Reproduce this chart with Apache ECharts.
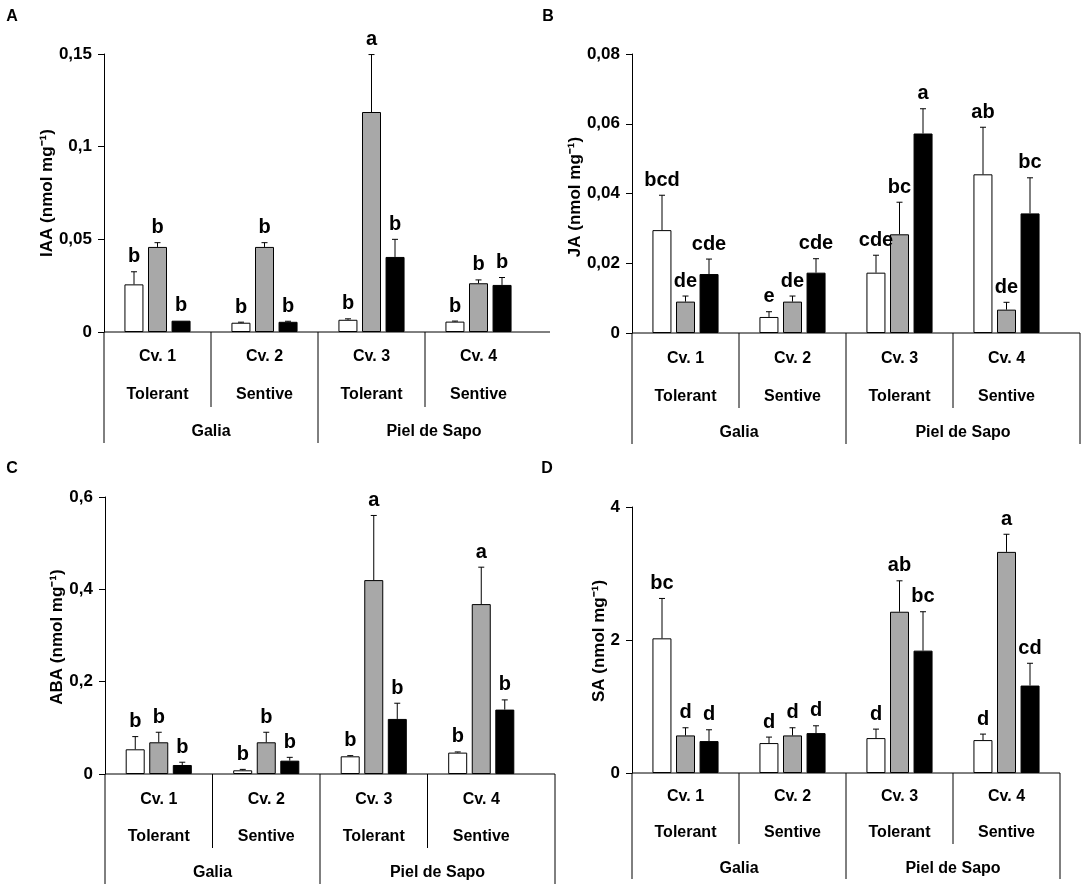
<!DOCTYPE html>
<html>
<head>
<meta charset="utf-8">
<script src="https://cdn.jsdelivr.net/npm/echarts@6/dist/echarts.min.js"></script>
<style>
  html, body { margin: 0; padding: 0; background: #fff; }
  #main { width: 1084px; height: 888px; }
</style>
</head>
<body>
<div id="main"></div>
<script>
// categories
var cultivars = ['Cv. 1', 'Cv. 2', 'Cv. 3', 'Cv. 4'];
var tolerance = ['Tolerant', 'Sentive', 'Tolerant', 'Sentive'];
var melonTypes = ['Galia', 'Piel de Sapo'];
var treatments = ['Control', 'Treatment 1', 'Treatment 2']; // white, gray, black

// IAA  (rows = treatment, cols = cultivar)
var iaaMean = [[0.0257, 0.0050, 0.0066, 0.0056], [0.0459, 0.0459, 0.1187, 0.0263], [0.0061, 0.0055, 0.0405, 0.0254]];
var iaaErr = [[0.0068, 0.0003, 0.0005, 0.0003], [0.0023, 0.0023, 0.0310, 0.0018], [0, 0.0003, 0.0095, 0.0040]];
var iaaLetters = [['b', 'b', 'b', 'b'], ['b', 'b', 'a', 'b'], ['b', 'b', 'b', 'b']];
var iaaTicks = ['0', '0,05', '0,1', '0,15'];

// JA
var jaMean = [[0.0295, 0.0046, 0.0173, 0.0455], [0.0090, 0.0090, 0.0283, 0.0067], [0.0169, 0.0173, 0.0572, 0.0343]];
var jaErr = [[0.0100, 0.0015, 0.0050, 0.0135], [0.0016, 0.0016, 0.0092, 0.0021], [0.0043, 0.0040, 0.0071, 0.0102]];
var jaLetters = [['bcd', 'e', 'cde', 'ab'], ['de', 'de', 'bc', 'de'], ['cde', 'cde', 'a', 'bc']];
var jaTicks = ['0', '0,02', '0,04', '0,06', '0,08'];

// ABA
var abaMean = [[0.0535, 0.0080, 0.0383, 0.0463], [0.0687, 0.0687, 0.4200, 0.3680], [0.0195, 0.0289, 0.1193, 0.1395]];
var abaErr = [[0.0275, 0.0020, 0.0015, 0.0015], [0.0217, 0.0217, 0.1400, 0.0800], [0.0060, 0.0072, 0.0340, 0.0210]];
var abaLetters = [['b', 'b', 'b', 'b'], ['b', 'b', 'a', 'a'], ['b', 'b', 'b', 'b']];
var abaTicks = ['0', '0,2', '0,4', '0,6'];

// SA
var saMean = [[2.025, 0.450, 0.525, 0.495], [0.565, 0.565, 2.425, 3.325], [0.480, 0.600, 1.840, 1.315]];
var saErr = [[0.600, 0.090, 0.135, 0.090], [0.115, 0.115, 0.465, 0.265], [0.170, 0.110, 0.585, 0.335]];
var saLetters = [['bc', 'd', 'd', 'd'], ['d', 'd', 'ab', 'a'], ['d', 'd', 'bc', 'cd']];
var saTicks = ['0', '2', '4'];

var FONT = '"Liberation Sans", Arial, sans-serif';
var barColors = ['#ffffff', '#a8a8a8', '#000000'];
var barOffsets = [-23.5, 0, 23.5];

var panels = [
  { tag: 'A', title: 'IAA (nmol mg\u207B\u00B9)', mean: iaaMean, err: iaaErr, letters: iaaLetters, ticks: iaaTicks,
    max: 0.15, interval: 0.05, left: 104, top: 54, width: 428, bottom: 332, ext: 18, rightLine: false,
    rows: [25, 63, 100], shortLen: 75, longLen: 111, tagPos: [12, 17], titlePos: [47, 193] },
  { tag: 'B', title: 'JA (nmol mg\u207B\u00B9)', mean: jaMean, err: jaErr, letters: jaLetters, ticks: jaTicks,
    max: 0.08, interval: 0.02, left: 632, top: 54, width: 428, bottom: 333, ext: 20, rightLine: true,
    rows: [26, 64, 100], shortLen: 75, longLen: 111, tagPos: [548, 17], titlePos: [575, 197] },
  { tag: 'C', title: 'ABA (nmol mg\u207B\u00B9)', mean: abaMean, err: abaErr, letters: abaLetters, ticks: abaTicks,
    max: 0.6, interval: 0.2, left: 105, top: 497, width: 430, bottom: 774, ext: 20, rightLine: true,
    rows: [26, 63, 99], shortLen: 74, longLen: 110, tagPos: [12, 469], titlePos: [57, 637] },
  { tag: 'D', title: 'SA (nmol mg\u207B\u00B9)', mean: saMean, err: saErr, letters: saLetters, ticks: saTicks,
    max: 4, interval: 2, left: 632, top: 507, width: 428, bottom: 773, ext: 0, rightLine: true,
    rows: [24, 60, 96], shortLen: 71, longLen: 106, tagPos: [547, 469], titlePos: [599, 641] }
];

var grids = [], xAxes = [], yAxes = [], series = [], graphics = [];

function line(x1, y1, x2, y2) {
  return { type: 'line', silent: true, shape: { x1: x1, y1: y1, x2: x2, y2: y2 },
    style: { stroke: '#000', lineWidth: 1 } };
}
function txt(str, x, y, size, extra) {
  var t = { type: 'text', silent: true, x: x, y: y,
    style: { text: str, fill: '#000', font: 'bold ' + size + 'px ' + FONT, align: 'center', verticalAlign: 'middle' } };
  if (extra) Object.assign(t, extra);
  return t;
}

panels.forEach(function (p, gi) {
  grids.push({ left: p.left, top: p.top, width: p.width, height: p.bottom - p.top, containLabel: false });
  xAxes.push({ type: 'category', gridIndex: gi, data: cultivars, axisLine: { show: false },
    axisTick: { show: false }, axisLabel: { show: false } });
  yAxes.push({ type: 'value', gridIndex: gi, min: 0, max: p.max, interval: p.interval,
    splitLine: { show: false },
    axisLine: { show: true, lineStyle: { color: '#000', width: 1 } },
    axisTick: { show: true, inside: false, length: 6, lineStyle: { color: '#000' } },
    axisLabel: { color: '#000', fontFamily: FONT, fontWeight: 'bold', fontSize: 17, margin: 12,
      formatter: (function (ticks) { return function (v, i) { return ticks[i]; }; })(p.ticks) } });

  treatments.forEach(function (name, si) {
    series.push({ name: name, type: 'bar', xAxisIndex: gi, yAxisIndex: gi,
      barWidth: 19, barGap: '24%', data: p.mean[si],
      itemStyle: { color: barColors[si], borderColor: '#000', borderWidth: 1 } });
    var items = p.mean[si].map(function (m, ci) { return [ci, m, p.err[si][ci], p.letters[si][ci]]; });
    series.push({ name: name + ' err', type: 'custom', xAxisIndex: gi, yAxisIndex: gi, clip: false, z: 5,
      data: items,
      renderItem: (function (off) {
        return function (params, api) {
          var base = api.coord([api.value(0), api.value(1)]);
          var top = api.coord([api.value(0), api.value(1) + api.value(2)]);
          var x = base[0] + off;
          var kids = [];
          if (base[1] - top[1] > 0.5) {
            kids.push({ type: 'line', shape: { x1: x, y1: base[1], x2: x, y2: top[1] }, style: { stroke: '#000', lineWidth: 1 } });
            kids.push({ type: 'line', shape: { x1: x - 3, y1: top[1], x2: x + 3, y2: top[1] }, style: { stroke: '#000', lineWidth: 1 } });
          }
          kids.push({ type: 'text', x: x, y: top[1] - 5,
            style: { text: api.value(3), fill: '#000', font: 'bold 20px ' + FONT, align: 'center', verticalAlign: 'bottom' } });
          return { type: 'group', children: kids };
        };
      })(barOffsets[si]) });
  });

  // category table below the axis
  var step = p.width / cultivars.length;
  var z = p.bottom;
  graphics.push(line(p.left, z, p.left + p.width + p.ext, z));
  for (var k = 0; k <= cultivars.length; k++) {
    var x = p.left + k * step;
    if (k === 1 || k === 3) graphics.push(line(x, z, x, z + p.shortLen));
    if (k === 0 || k === 2) graphics.push(line(x, z, x, z + p.longLen));
  }
  if (p.rightLine) graphics.push(line(p.left + p.width + p.ext, z, p.left + p.width + p.ext, z + p.longLen));
  cultivars.forEach(function (c, ci) {
    var cx = p.left + (ci + 0.5) * step;
    graphics.push(txt(c, cx, z + p.rows[0], 16));
    graphics.push(txt(tolerance[ci], cx, z + p.rows[1], 16));
  });
  melonTypes.forEach(function (m, mi) {
    var cx = p.left + (mi + 0.5) * step * 2 + (mi === 1 ? p.ext / 2 : 0);
    graphics.push(txt(m, cx, z + p.rows[2], 16));
  });
  graphics.push(txt(p.tag, p.tagPos[0], p.tagPos[1], 16, {}));
  graphics.push(txt(p.title, p.titlePos[0], p.titlePos[1], 17, { rotation: Math.PI / 2 }));
});

var chart = echarts.init(document.getElementById('main'), null, { renderer: 'canvas' });
chart.setOption({
  backgroundColor: '#fff',
  animation: false,
  grid: grids,
  xAxis: xAxes,
  yAxis: yAxes,
  series: series,
  graphic: graphics
});
</script>
</body>
</html>
